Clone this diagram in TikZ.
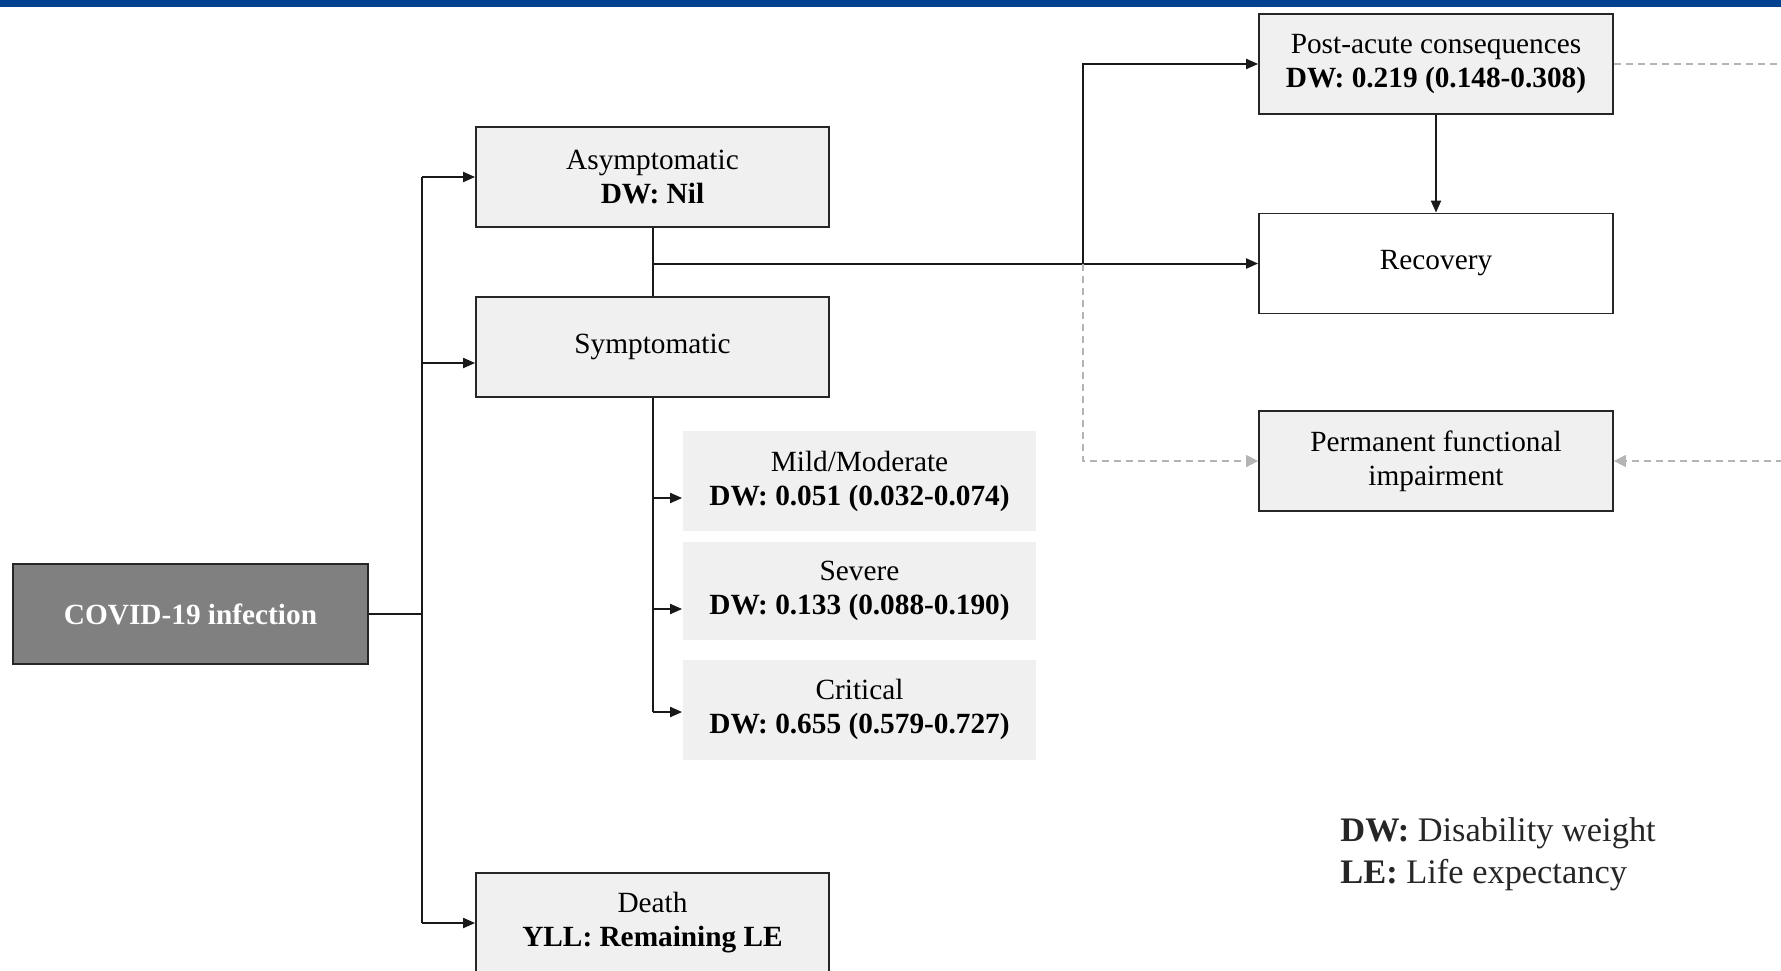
\documentclass[tikz,border=0pt]{standalone}
\usepackage{fontspec}
\setmainfont{Liberation Serif}
\usetikzlibrary{arrows.meta}
\definecolor{topblue}{HTML}{004190}
\definecolor{boxfill}{HTML}{F0F0F0}
\definecolor{darkfill}{HTML}{808080}
\definecolor{dashgray}{HTML}{B4B4B4}
\tikzset{
  box/.style={draw=black!85, line width=0.9pt, fill=boxfill, rectangle, inner sep=0pt,
    minimum width=176.5pt, minimum height=50pt, align=center,
    font=\fontsize{14.65pt}{17pt}\selectfont},
  subbox/.style={box, draw=none},
  whitebox/.style={box, fill=white},
  darkbox/.style={box, fill=darkfill, text=white, minimum width=177.5pt},
  conn/.style={line width=1pt, black!90},
  arr/.style={conn, -{Triangle[length=6pt,width=5pt]}},
  dasharr/.style={line width=0.8pt, dashgray, dash pattern=on 3.5pt off 2.5pt,
    -{Triangle[length=6pt,width=6pt]}}
}
\begin{document}
\begin{tikzpicture}[x=0.5pt,y=-0.5pt]
\useasboundingbox (0,0) rectangle (1781,970);
\clip (0,0) rectangle (1781,970);
\fill[topblue] (0,0) rectangle (1781,7);

% nodes
\node[darkbox] (covid) at (190.5,614) {\textbf{COVID-19 infection}};
\node[box] (asym) at (652.5,177) {Asymptomatic\\\textbf{DW: Nil}};
\node[box] (symp) at (652.5,347) {Symptomatic};
\node[box] (death) at (652.5,923) {Death\\\textbf{YLL: Remaining LE}};
\node[subbox] (mild) at (859.5,481) {Mild/Moderate\\\textbf{DW: 0.051 (0.032-0.074)}};
\node[subbox, minimum height=49pt] (severe) at (859.5,591) {Severe\\\textbf{DW: 0.133 (0.088-0.190)}};
\node[subbox] (critical) at (859.5,709.5) {Critical\\\textbf{DW: 0.655 (0.579-0.727)}};
\node[box, minimum width=177pt] (post) at (1436,64) {Post-acute consequences\\\textbf{DW: 0.219 (0.148-0.308)}};
\node[whitebox, minimum width=177pt] (recov) at (1436,263.5) {Recovery};
\node[box, minimum width=177pt] (perm) at (1436,461) {Permanent functional\\impairment};

\node[anchor=west, align=left, inner sep=0pt, text=black!85,
  font=\fontsize{17.2pt}{21pt}\selectfont] (legend) at (1340,854)
  {\textbf{DW:} Disability weight\\\textbf{LE:} Life expectancy};

% coordinates
\coordinate (tTop) at (422,177);
\coordinate (tCov) at (422,614);
\coordinate (tSym) at (422,363);
\coordinate (tBot) at (422,923);
\coordinate (j1) at (652.5,263.5);
\coordinate (j2) at (1083,263.5);
\coordinate (sMild) at (652.5,498);
\coordinate (sSev) at (652.5,609);
\coordinate (sCrit) at (652.5,712);
\coordinate (offA) at (1800,64);
\coordinate (offB) at (1800,461);

% connectors
\draw[conn] (covid.east) -- (tCov);
\draw[conn] (tTop) -- (tBot);
\draw[arr] (tTop) -- (asym.west);
\draw[arr] (tSym) -- (tSym -| symp.west);
\draw[arr] (tBot) -- (death.west);

\draw[conn] (asym.south) -- (symp.north);
\draw[arr] (j1) -- (recov.west);
\draw[arr] (j2) |- (post.west);
\draw[arr] (post.south) -- (recov.north);

\draw[conn] (symp.south) -- (sCrit);
\draw[arr] (sMild) -- (sMild -| mild.west);
\draw[arr] (sSev) -- (sSev -| severe.west);
\draw[arr] (sCrit) -- (sCrit -| critical.west);

\draw[dasharr] (j2) |- (perm.west);
\draw[dasharr] (post.east) -- (offA) -- (offB) -- (perm.east);
\end{tikzpicture}
\end{document}
